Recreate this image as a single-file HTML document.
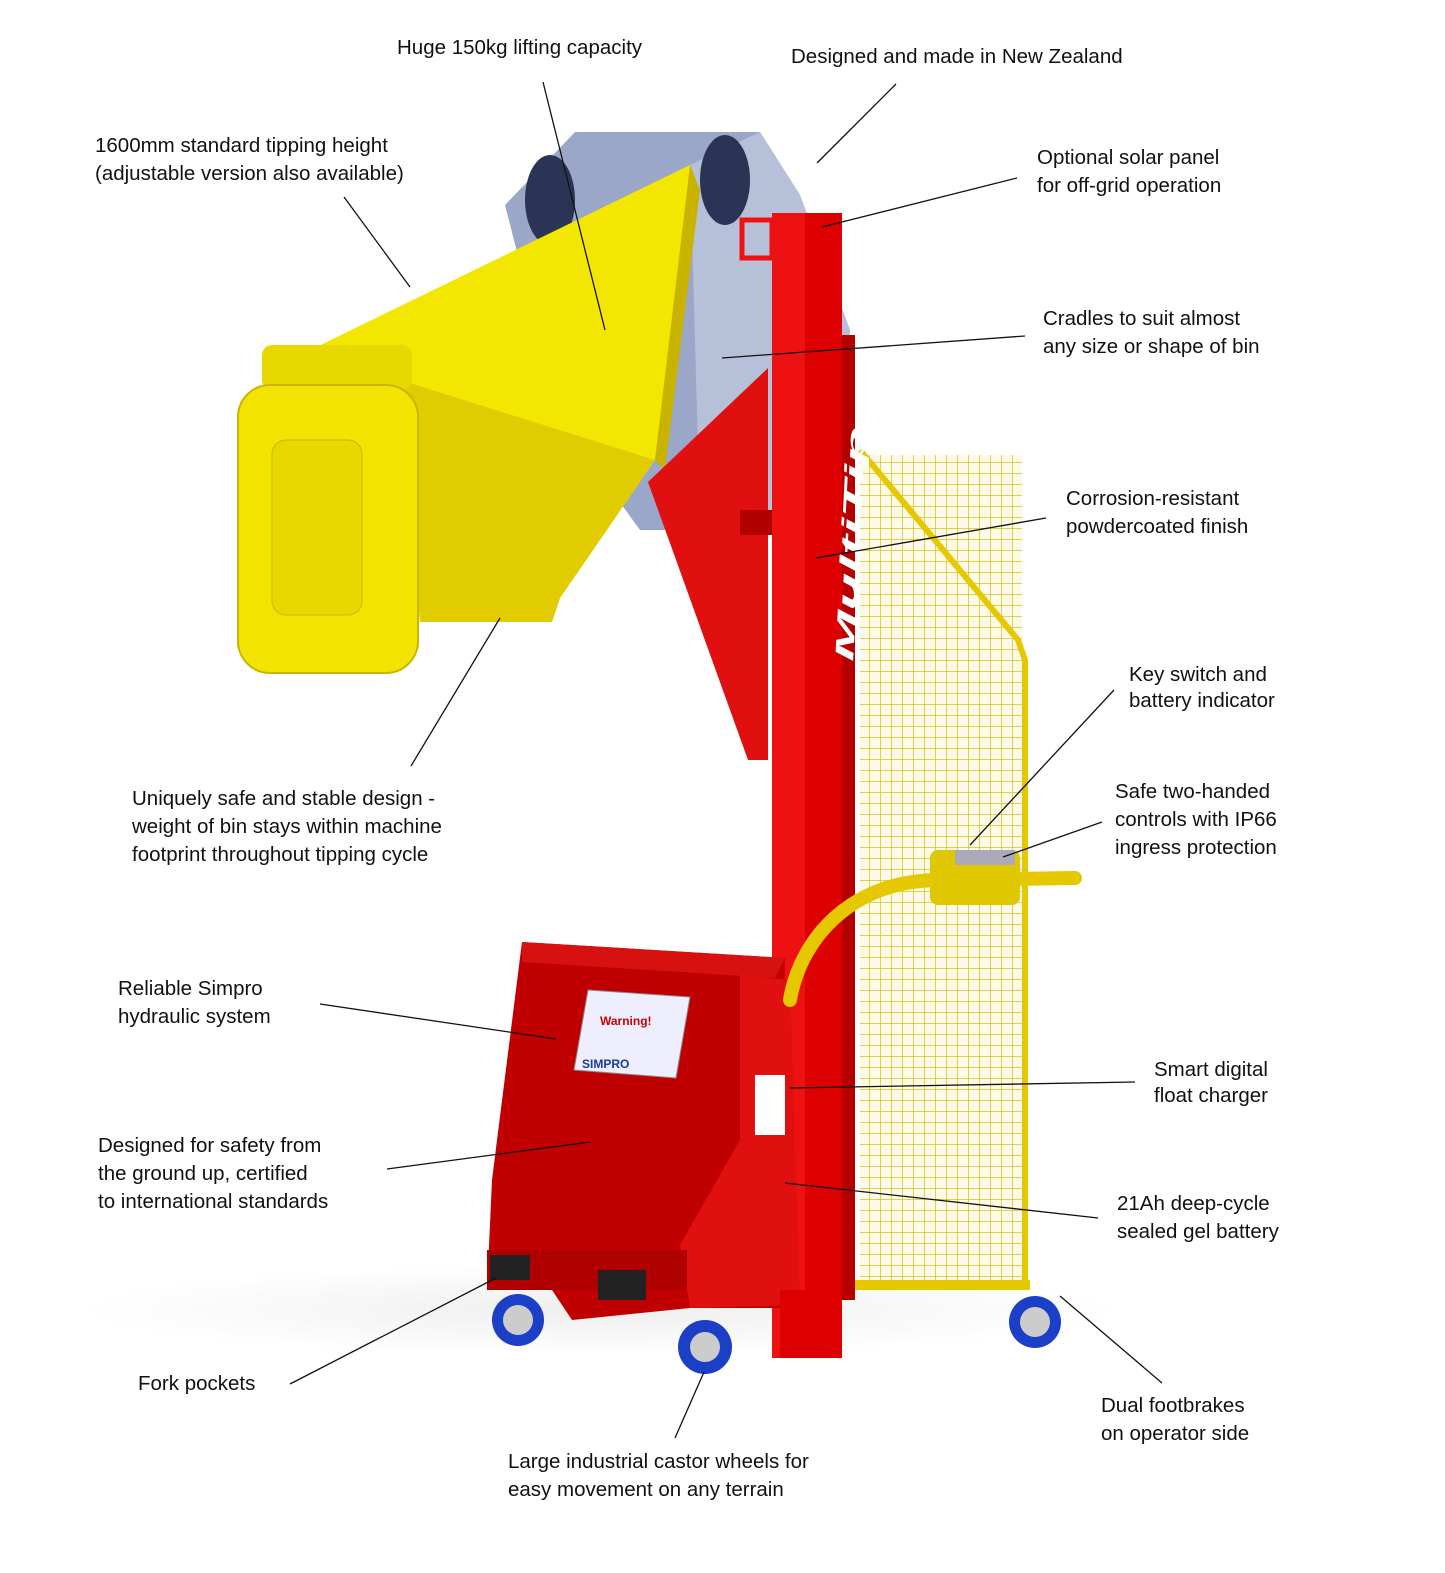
<!DOCTYPE html>
<html><head><meta charset="utf-8"><style>
html,body{margin:0;padding:0;background:#fff;}
svg{display:block;}
text{font-family:"Liberation Sans",Arial,sans-serif;font-size:20.5px;fill:#111;}
</style></head><body>
<svg width="1445" height="1573" viewBox="0 0 1445 1573" xmlns="http://www.w3.org/2000/svg">
<defs>
<pattern id="mesh" width="11" height="11" patternUnits="userSpaceOnUse">
<rect width="11" height="11" fill="#fdfbe8"/>
<path d="M0 0H11M0 0V11" stroke="#d8c21a" stroke-width="1.5"/>
</pattern>
<radialGradient id="shadow" cx="0.5" cy="0.5" r="0.5">
<stop offset="0" stop-color="#eee"/><stop offset="1" stop-color="#fff"/>
</radialGradient>
</defs>
<ellipse cx="600" cy="1310" rx="520" ry="45" fill="url(#shadow)"/>
<!-- hopper -->
<polygon points="505,205 575,132 760,132 800,195 850,330 830,530 640,530 560,420" fill="#9aa7c8"/>
<polygon points="690,165 760,132 800,195 850,330 800,530 700,520" fill="#b6c0d8"/>
<ellipse cx="550" cy="200" rx="25" ry="45" fill="#2a3556"/>
<ellipse cx="725" cy="180" rx="25" ry="45" fill="#2a3556"/>
<!-- yellow chute -->
<polygon points="300,355 690,165 690,200 655,460 560,598 552,622 420,622 400,420" fill="#f3e600"/>
<polygon points="400,380 655,460 560,598 552,622 420,622" fill="#e0cc00"/>
<polygon points="690,165 700,190 665,470 655,460" fill="#c8b400"/>
<rect x="262" y="345" width="150" height="45" rx="10" fill="#e6d800"/>
<rect x="238" y="385" width="180" height="288" rx="32" fill="#f2e400" stroke="#c8b600" stroke-width="2"/>
<rect x="272" y="440" width="90" height="175" rx="14" fill="#e9d800" stroke="#c9b700"/>
<!-- red bracket -->
<polygon points="648,482 768,368 768,760 748,760" fill="#e01010"/>
<polygon points="740,510 785,510 785,535 740,535" fill="#b00000"/>
<!-- mast -->
<rect x="772" y="213" width="70" height="1145" fill="#e11"/>
<rect x="830" y="335" width="25" height="965" fill="#b50000"/>
<rect x="805" y="213" width="37" height="1145" fill="#d00"/>
<rect x="742" y="220" width="30" height="38" fill="none" stroke="#e11" stroke-width="5"/>
<!-- gate -->
<rect x="860" y="455" width="162" height="830" fill="url(#mesh)"/>
<path d="M860,450 L1018,640 L1025,660 L1025,1285 L860,1285" fill="none" stroke="#e6c800" stroke-width="6"/>
<rect x="855" y="1280" width="175" height="10" fill="#e6c800"/>
<text x="0" y="0" transform="translate(853,662) rotate(-87)" textLength="235" lengthAdjust="spacingAndGlyphs" style="font-size:26px;font-weight:bold;font-style:italic;fill:#fff">MultiTip</text>
<!-- base -->
<polygon points="522,942 785,958 780,1308 690,1308 572,1320 552,1290 487,1290 492,1180" fill="#c00000"/>
<polygon points="522,942 785,958 775,978 522,962" fill="#d71010"/>
<polygon points="680,1245 740,1140 740,975 790,980 800,1305 690,1308" fill="#e01010"/>
<rect x="487" y="1250" width="200" height="40" fill="#b00000"/>
<rect x="490" y="1255" width="40" height="25" fill="#222"/>
<rect x="598" y="1270" width="48" height="30" fill="#222"/>
<rect x="780" y="1290" width="60" height="68" fill="#d00"/>
<polygon points="588,990 690,997 676,1078 574,1070" fill="#eef" stroke="#888"/>
<text x="600" y="1025" style="font-size:12px;fill:#c00;font-weight:bold">Warning!</text>
<text x="582" y="1068" style="font-size:12px;fill:#1a3a9a;font-weight:bold">SIMPRO</text>
<rect x="755" y="1075" width="30" height="60" fill="#fff"/>
<!-- handle -->
<path d="M790,1000 C800,940 850,880 940,880 L1075,878" fill="none" stroke="#e6c800" stroke-width="14" stroke-linecap="round"/>
<rect x="930" y="850" width="90" height="55" rx="8" fill="#e0c800"/>
<rect x="955" y="850" width="60" height="15" fill="#aab"/>
<!-- wheels -->
<circle cx="518" cy="1320" r="26" fill="#1b3fc6"/><circle cx="518" cy="1320" r="15" fill="#ccc"/>
<circle cx="705" cy="1347" r="27" fill="#1b3fc6"/><circle cx="705" cy="1347" r="15" fill="#ccc"/>
<circle cx="1035" cy="1322" r="26" fill="#1b3fc6"/><circle cx="1035" cy="1322" r="15" fill="#ccc"/>
<!-- leader lines -->
<g stroke="#111" stroke-width="1.3">
<line x1="543" y1="82" x2="605" y2="330"/>
<line x1="896" y1="84" x2="817" y2="163"/>
<line x1="344" y1="197" x2="410" y2="287"/>
<line x1="1017" y1="178" x2="822" y2="227"/>
<line x1="1025" y1="336" x2="722" y2="358"/>
<line x1="1046" y1="518" x2="816" y2="558"/>
<line x1="1114" y1="690" x2="970" y2="845"/>
<line x1="1102" y1="822" x2="1003" y2="857"/>
<line x1="500" y1="618" x2="411" y2="766"/>
<line x1="320" y1="1004" x2="556" y2="1039"/>
<line x1="387" y1="1169" x2="590" y2="1142"/>
<line x1="1135" y1="1082" x2="790" y2="1088"/>
<line x1="1098" y1="1218" x2="785" y2="1183"/>
<line x1="290" y1="1384" x2="496" y2="1278"/>
<line x1="1162" y1="1383" x2="1060" y2="1296"/>
<line x1="675" y1="1438" x2="704" y2="1372"/>
</g>
<!-- labels -->
<text x="397" y="54">Huge 150kg lifting capacity</text>
<text x="791" y="63">Designed and made in New Zealand</text>
<text x="95" y="152">1600mm standard tipping height</text>
<text x="95" y="180">(adjustable version also available)</text>
<text x="1037" y="164">Optional solar panel</text>
<text x="1037" y="192">for off-grid operation</text>
<text x="1043" y="325">Cradles to suit almost</text>
<text x="1043" y="353">any size or shape of bin</text>
<text x="1066" y="505">Corrosion-resistant</text>
<text x="1066" y="533">powdercoated finish</text>
<text x="1129" y="681">Key switch and</text>
<text x="1129" y="707">battery indicator</text>
<text x="1115" y="798">Safe two-handed</text>
<text x="1115" y="826">controls with IP66</text>
<text x="1115" y="854">ingress protection</text>
<text x="132" y="805">Uniquely safe and stable design -</text>
<text x="132" y="833">weight of bin stays within machine</text>
<text x="132" y="861">footprint throughout tipping cycle</text>
<text x="118" y="995">Reliable Simpro</text>
<text x="118" y="1023">hydraulic system</text>
<text x="98" y="1152">Designed for safety from</text>
<text x="98" y="1180">the ground up, certified</text>
<text x="98" y="1208">to international standards</text>
<text x="1154" y="1076">Smart digital</text>
<text x="1154" y="1102">float charger</text>
<text x="1117" y="1210">21Ah deep-cycle</text>
<text x="1117" y="1238">sealed gel battery</text>
<text x="138" y="1390">Fork pockets</text>
<text x="1101" y="1412">Dual footbrakes</text>
<text x="1101" y="1440">on operator side</text>
<text x="508" y="1468">Large industrial castor wheels for</text>
<text x="508" y="1496">easy movement on any terrain</text>
</svg>
</body></html>
